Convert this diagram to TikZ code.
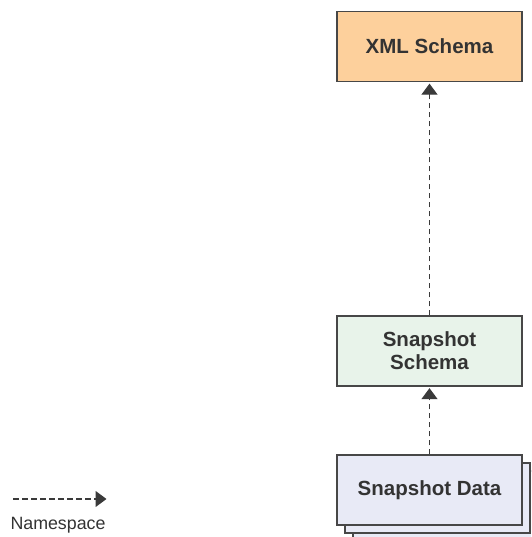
\documentclass[tikz,border=0pt]{standalone}
\usepackage{fontspec}
\setmainfont{Liberation Sans}
\usetikzlibrary{arrows.meta}
\definecolor{txt}{HTML}{333333}
\definecolor{edge}{HTML}{474747}
\definecolor{arr}{HTML}{3A3A3A}
\definecolor{xmlfill}{HTML}{FDD09C}
\definecolor{schfill}{HTML}{E8F3EA}
\definecolor{datfill}{HTML}{E8EAF6}
\tikzset{
  box/.style={draw=edge, line width=1.3pt, minimum width=185pt, minimum height=70pt,
    inner sep=0pt, align=center, text=txt, font=\fontsize{20.5pt}{23pt}\selectfont\bfseries},
  ns/.style={draw=arr, line width=1.2pt, dash pattern=on 5.5pt off 3.5pt,
    -{Triangle[length=11pt,width=16pt]}, shorten >=1.5pt}
}
\begin{document}
\begin{tikzpicture}[x=1pt,y=-1pt]
\clip (0,0) rectangle (531,537);
\node[box, fill=xmlfill] (xml) at (429.5,46.5) {XML Schema};
\node[box, fill=schfill] (sch) at (429.5,351) {Snapshot\\Schema};
\node[box, fill=datfill] (dat3) at (445.5,506) {};
\node[box, fill=datfill] (dat2) at (437.5,498) {};
\node[box, fill=datfill] (dat) at (429.5,490) {Snapshot Data};
\draw[ns] (dat.north) -- (sch.south);
\draw[ns] (sch.north) -- (xml.south);
\coordinate (legA) at (13,499);
\coordinate (legB) at (106.5,499);
\draw[ns, shorten >=0pt] (legA) -- (legB);
\node[text=txt, font=\fontsize{17.8pt}{20pt}\selectfont, inner sep=0pt] (leglabel) at (58,525) {Namespace};
\end{tikzpicture}
\end{document}
